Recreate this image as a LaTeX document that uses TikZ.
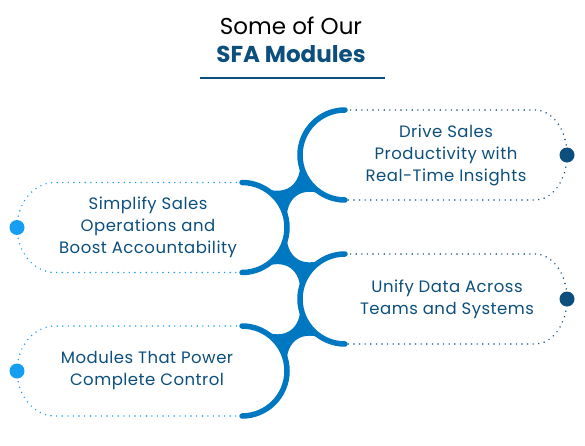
\documentclass[tikz,border=0pt]{standalone}
\usepackage{fontspec}
\setmainfont{Poppins}
\usetikzlibrary{calc}
\definecolor{arcblue}{RGB}{0,119,193}
\definecolor{navy}{RGB}{12,79,124}
\definecolor{skyblue}{RGB}{22,158,240}

\tikzset{
  hub/.style={arcblue, line width=5.5pt, line cap=round},
  trail/.style={line width=1.6pt, dash pattern=on 0pt off 5.6pt, line cap=round},
  modtext/.style={navy, align=center, font=\fontsize{16.5}{22}\selectfont\addfontfeatures{LetterSpace=3}},
  knob/.style={circle, fill, inner sep=0pt, minimum size=15pt},
}

% filled neck between two hub circles (centres #1,#2; angle from #1 to #2 is #3, back is #4)
\newcommand{\hubneck}[4]{%
  \pgfmathsetmacro{\jAp}{#3+30}\pgfmathsetmacro{\jAm}{#3-30}
  \pgfmathsetmacro{\jBp}{#4+30}\pgfmathsetmacro{\jBm}{#4-30}
  \pgfmathsetmacro{\jAo}{#3-60}\pgfmathsetmacro{\jBi}{#4+60}
  \pgfmathsetmacro{\jBo}{#4-60}\pgfmathsetmacro{\jAi}{#3+60}
  \fill[arcblue] ($(#1)+(\jAp:45)$) to[out=\jAo, in=\jBi, looseness=1.4] ($(#2)+(\jBm:45)$)
    arc[start angle=\jBm, end angle=\jBp, radius=45]
    to[out=\jBo, in=\jAi, looseness=1.4] ($(#1)+(\jAm:45)$)
    arc[start angle=\jAm, end angle=\jAp, radius=45] -- cycle;
}

\begin{document}
\begin{tikzpicture}[x=1pt, y=1pt]
  \useasboundingbox (0,0) rectangle (585,445);
  % title
  \node[anchor=base, font=\fontsize{23}{28}\selectfont] (head) at (291,410) {Some of Our};
  \node[anchor=base, navy, font=\fontsize{23}{28}\selectfont\bfseries] (subhead) at (291,382) {SFA Modules};
  \draw[navy, line width=2pt] (200,367) -- (385,367);
  % hub centres
  \coordinate (c1) at (345,290);
  \coordinate (c2) at (242,217.5);
  \coordinate (c3) at (345,146);
  \coordinate (c4) at (242,74);
  % dotted frames
  \draw[trail, navy] ($(c1)+(0,45)$) -- ($(c1)+(190,45)$)
    arc[start angle=90, end angle=-90, x radius=32, y radius=45] -- ($(c1)+(0,-45)$);
  \draw[trail, navy] ($(c3)+(0,45)$) -- ($(c3)+(190,45)$)
    arc[start angle=90, end angle=-90, x radius=32, y radius=45] -- ($(c3)+(0,-45)$);
  \draw[trail, skyblue] ($(c2)+(0,45)$) -- ($(c2)+(-187,45)$)
    arc[start angle=90, end angle=270, x radius=38, y radius=45] -- ($(c2)+(0,-45)$);
  \draw[trail, skyblue] ($(c4)+(0,45)$) -- ($(c4)+(-187,45)$)
    arc[start angle=90, end angle=270, x radius=38, y radius=45] -- ($(c4)+(0,-45)$);
  \node[knob, navy] (k1) at ($(c1)+(222,0)$) {};
  \node[knob, navy] (k3) at ($(c3)+(222,0)$) {};
  \node[knob, skyblue] (k2) at ($(c2)+(-225,0)$) {};
  \node[knob, skyblue] (k4) at ($(c4)+(-225,0)$) {};
  % necks
  \hubneck{c1}{c2}{215.1}{35.1}
  \hubneck{c2}{c3}{-34.8}{145.2}
  \hubneck{c3}{c4}{215}{35}
  % hub arcs
  \draw[hub] ($(c1)+(0,45)$) arc[start angle=90, end angle=270, radius=45];
  \draw[hub] ($(c2)+(0,45)$) arc[start angle=90, end angle=-90, radius=45];
  \draw[hub] ($(c3)+(0,45)$) arc[start angle=90, end angle=270, radius=45];
  \draw[hub] ($(c4)+(0,45)$) arc[start angle=90, end angle=-90, radius=45];
  % module texts
  \node[modtext] (m1) at ($(c1)+(101,0)$) {Drive Sales\\Productivity with\\Real-Time Insights};
  \node[modtext] (m2) at ($(c2)+(-94,0)$) {Simplify Sales\\Operations and\\Boost Accountability};
  \node[modtext] (m3) at ($(c3)+(102,0)$) {Unify Data Across\\Teams and Systems};
  \node[modtext] (m4) at ($(c4)+(-95,0)$) {Modules That Power\\Complete Control};
\end{tikzpicture}
\end{document}
